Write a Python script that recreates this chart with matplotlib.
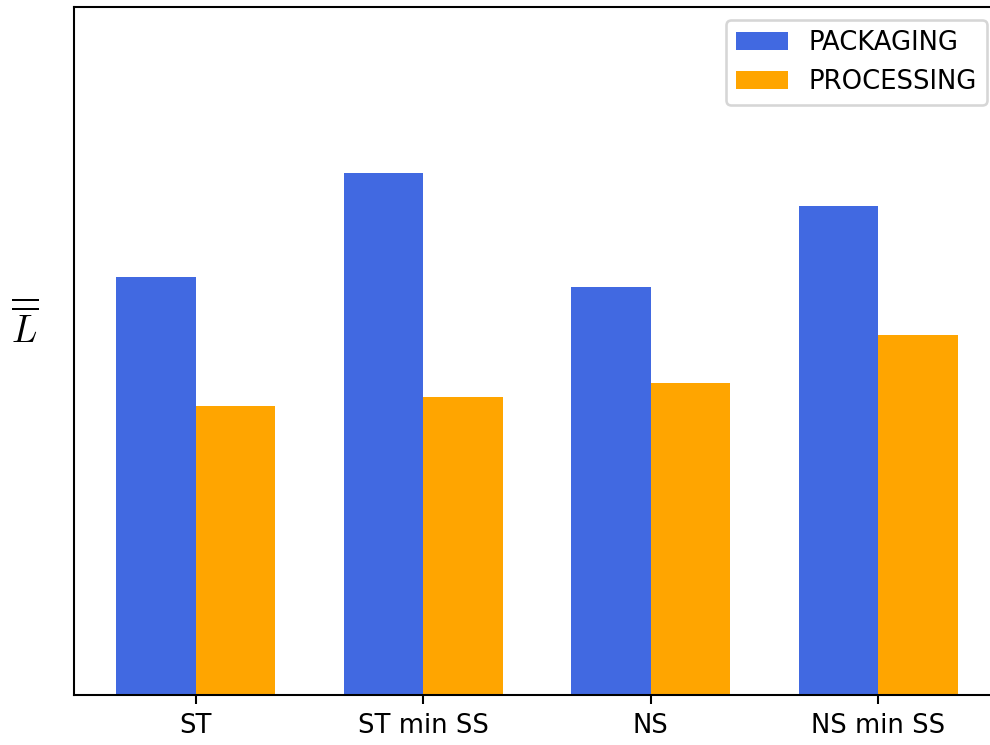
import numpy as np
import matplotlib
matplotlib.use("Agg")
import matplotlib.pyplot as plt

plt.rcParams["mathtext.fontset"] = "cm"

categories = ["ST", "ST min SS", "NS", "NS min SS"]
packaging = [0.608, 0.759, 0.593, 0.711]
processing = [0.420, 0.433, 0.453, 0.523]

dpi = 186
fig = plt.figure(figsize=(990 / dpi, 745 / dpi), dpi=dpi)
ax = fig.add_axes([74 / 990, 50 / 745, (1000 - 74) / 990, 688 / 745])

x = np.arange(len(categories))
width = 0.35
ax.bar(x - width / 2, packaging, width, color="royalblue", label="PACKAGING")
ax.bar(x + width / 2, processing, width, color="orange", label="PROCESSING")

ax.set_xticks(x)
ax.set_xticklabels(categories)
ax.set_yticks([])
ax.set_ylim(0, 1.0)
ax.set_ylabel(r"$\overline{\overline{L}}$", rotation=0, fontsize=14.5, labelpad=19)
ax.legend(loc="upper right")

fig.savefig("out.png", dpi=dpi)
